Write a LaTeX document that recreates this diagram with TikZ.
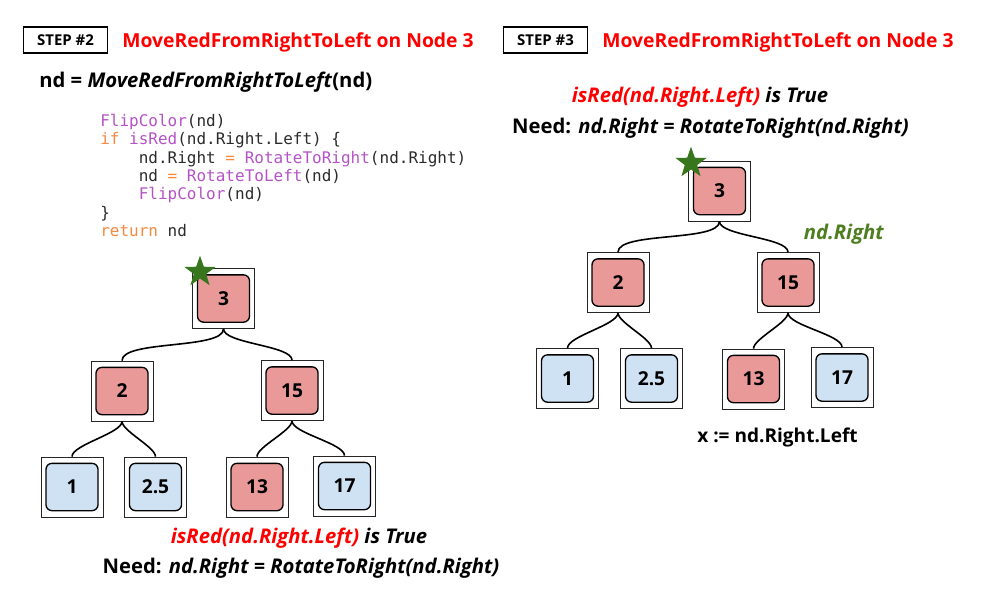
\documentclass[tikz,border=0pt]{standalone}
\usepackage{fontspec}
\setmainfont{Open Sans}
\setmonofont{DejaVu Sans Mono}
\usetikzlibrary{shapes.geometric}
\definecolor{nodered}{HTML}{EA9999}
\definecolor{nodeblue}{HTML}{CFE2F3}
\definecolor{titlered}{HTML}{FF0000}
\definecolor{stargreen}{HTML}{38761D}
\definecolor{labgreen}{HTML}{4E7E1F}
\definecolor{codepurple}{HTML}{B553C6}
\definecolor{codeorange}{HTML}{F5893D}
\definecolor{codetext}{HTML}{2B2B2B}
\tikzset{
  outerbox/.style={draw=black!85, line width=0.6pt, fill=white, minimum width=46.5pt, minimum height=45pt, inner sep=0pt},
  innerbox/.style={draw=black, line width=1pt, rounded corners=4.5pt, minimum width=39pt, minimum height=35.5pt, inner sep=0pt, font=\fontsize{14.4}{16}\selectfont\bfseries},
  stepbox/.style={draw=black, line width=0.9pt, minimum width=63.5pt, minimum height=19.5pt, inner sep=0pt, font=\fontsize{11.2}{13}\selectfont\bfseries},
  titletext/.style={text=titlered, font=\fontsize{14.5}{17}\selectfont\bfseries, inner sep=0pt},
  bigtext/.style={font=\fontsize{15.2}{18}\selectfont\bfseries, inner sep=0pt},
  midtext/.style={font=\fontsize{15.2}{18}\selectfont\bfseries, inner sep=0pt},
  plaintext/.style={font=\fontsize{14.3}{17}\selectfont\bfseries, inner sep=0pt},
  link/.style={line width=1.2pt, out=-90, in=90, looseness=0.5},
  starmark/.style={star, star points=5, star point ratio=2.5, fill=stargreen, inner sep=0pt, minimum size=24.5pt},
}
\newcommand{\treebox}[4]{%
  \node[outerbox] (#1) at (#2) {};
  \node[innerbox, fill=#3] (#1i) at (#2) {#4};
}
\begin{document}
\begin{tikzpicture}[x=0.75pt,y=-0.75pt]
\useasboundingbox (0,0) rectangle (992,615);
% ---------------- left panel ----------------
\node[stepbox] (s2) at (65.5,40) {STEP \#2};
\node[titletext, anchor=west] (t2) at (122,42) {MoveRedFromRightToLeft on Node 3};
\node[bigtext, anchor=west] (call) at (39,82) {nd = \textit{MoveRedFromRightToLeft}(nd)};
\node[anchor=north west, align=left, inner sep=0pt, text=codetext,
      font=\fontsize{12}{13.75}\selectfont\ttfamily] (code) at (100,114) {%
\textcolor{codepurple}{FlipColor}(nd)\\
\textcolor{codeorange}{if} \textcolor{codepurple}{isRed}(nd.Right.Left) \{\\
\phantom{xxxx}nd.Right \textcolor{codeorange}{=} \textcolor{codepurple}{RotateToRight}(nd.Right)\\
\phantom{xxxx}nd \textcolor{codeorange}{=} \textcolor{codepurple}{RotateToLeft}(nd)\\
\phantom{xxxx}\textcolor{codepurple}{FlipColor}(nd)\\
\}\\
\textcolor{codeorange}{return} nd};
\treebox{a3}{223.5,298.5}{nodered}{3}
\treebox{a2}{122,391}{nodered}{2}
\treebox{a15}{292,390.5}{nodered}{15}
\treebox{a1}{72,487}{nodeblue}{1}
\treebox{a25}{155.5,487}{nodeblue}{2.5}
\treebox{a13}{257,487}{nodered}{13}
\treebox{a17}{344.5,486}{nodeblue}{17}
\node[starmark] (astar) at (200,272) {};
\draw[link] (a3.south) to (a2.north);
\draw[link] (a3.south) to (a15.north);
\draw[link] (a2.south) to (a1.north);
\draw[link] (a2.south) to (a25.north);
\draw[link] (a15.south) to (a13.north);
\draw[link] (a15.south) to (a17.north);
\node[midtext] (cond2) at (299,538) {\textcolor{titlered}{\textit{isRed(nd.Right.Left)}} \textit{is True}};
\node[midtext] (need2) at (301,568) {Need: \textit{nd.Right = RotateToRight(nd.Right)}};
% ---------------- right panel ----------------
\node[stepbox] (s3) at (545.5,40) {STEP \#3};
\node[titletext, anchor=west] (t3) at (602,42) {MoveRedFromRightToLeft on Node 3};
\node[midtext] (cond3) at (700,97) {\textcolor{titlered}{\textit{isRed(nd.Right.Left)}} \textit{is True}};
\node[midtext] (need3) at (710.5,128) {Need: \textit{nd.Right = RotateToRight(nd.Right)}};
\treebox{b3}{719.5,191}{nodered}{3}
\treebox{b2}{618,282.5}{nodered}{2}
\treebox{b15}{788,282.5}{nodered}{15}
\treebox{b1}{567.5,378.5}{nodeblue}{1}
\treebox{b25}{651.5,378.5}{nodeblue}{2.5}
\treebox{b13}{753.5,379}{nodered}{13}
\treebox{b17}{842,377.5}{nodeblue}{17}
\node[starmark] (bstar) at (691,163) {};
\draw[link] (b3.south) to (b2.north);
\draw[link] (b3.south) to (b15.north);
\draw[link] (b2.south) to (b1.north);
\draw[link] (b2.south) to (b25.north);
\draw[link] (b15.south) to (b13.north);
\draw[link] (b15.south) to (b17.north);
\node[midtext, text=labgreen] (ndr) at (844,234) {\textit{nd.Right}};
\node[plaintext] (xlab) at (777.5,437) {x := nd.Right.Left};
\end{tikzpicture}
\end{document}
